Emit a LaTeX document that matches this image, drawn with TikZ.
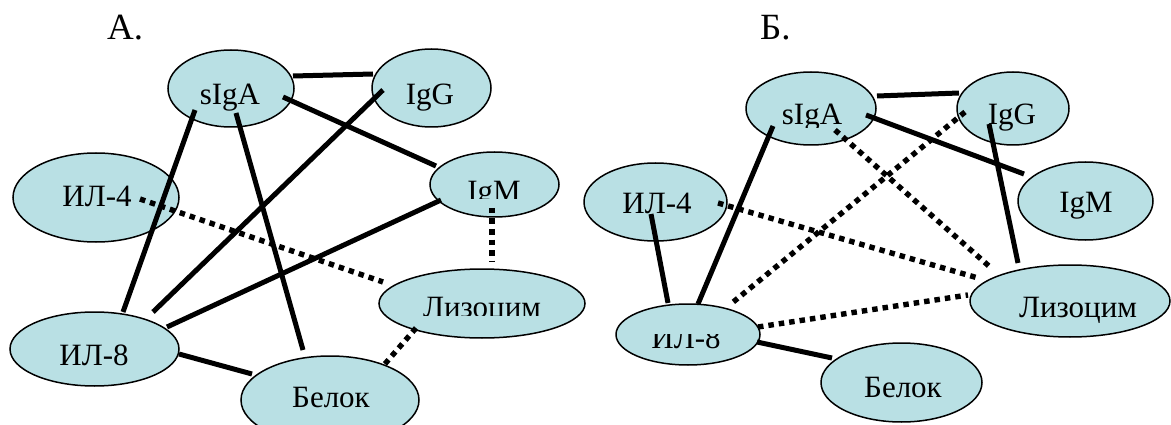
\documentclass[tikz,border=0pt]{standalone}
\usepackage{fontspec}
\setmainfont{Liberation Serif}
\usetikzlibrary{shapes.geometric}
\definecolor{bubble}{RGB}{185,224,228}
\tikzset{
  bub/.style={ellipse, draw=black, line width=1.5pt, fill=bubble, inner sep=0pt},
  txt/.style={anchor=base, inner sep=0pt, font=\fontsize{31}{36}\selectfont},
  head/.style={anchor=base west, inner sep=0pt, font=\fontsize{37}{44}\selectfont},
  link/.style={line width=5pt},
  weak/.style={line width=5.4pt, dash pattern=on 5.5pt off 5pt},
}
\begin{document}
\begin{tikzpicture}[x=1pt,y=-1pt]
\useasboundingbox (0,0) rectangle (1171,425);

% ---------- panel A ----------
\node[head] (hA) at (107,40) {А.};
\node[bub, minimum width=126, minimum height=77] (aS)  at (231,88.5)  {};
\node[bub, minimum width=119, minimum height=78] (aG)  at (431.5,88)  {};
\node[bub, minimum width=166, minimum height=89] (aI4) at (96,197.5)  {};
\node[bub, minimum width=129, minimum height=65] (aM)  at (494.5,184.5) {};
\node[bub, minimum width=206, minimum height=69] (aL)  at (482,303.5)  {};
\node[bub, minimum width=169, minimum height=74] (aI8) at (94.5,349)  {};
\node[bub, minimum width=178, minimum height=88] (aB)  at (330,400)   {};

\node[txt] (aSt)  at (230,105) {sIgA};
\node[txt] (aGt)  at (430,105) {IgG};
\node[txt] (aI4t) at (97,207)  {ИЛ-4};
\node[txt] (aI8t) at (94,365)  {ИЛ-8};
\node[txt] (aBt)  at (331,407) {Белок};
\begin{scope}
  \clip (420,170) rectangle (570,199);
  \node[txt] (aMt) at (494,201) {IgM};
\end{scope}
\begin{scope}
  \clip (400,285) rectangle (570,315.5);
  \node[txt] (aLt) at (482,317) {Лизоцим};
\end{scope}

\draw[link] ([shift={(62,-12.5)}]aS.center) -- ([shift={(-58.5,-14)}]aG.center);
\draw[link] ([shift={(52,8.5)}]aS.center) -- ([shift={(-58.5,-18.5)}]aM.center);
\draw[link] ([shift={(-48.5,2)}]aG.center) -- ([shift={(58.5,-37)}]aI8.center);
\draw[link] ([shift={(-36,21.5)}]aS.center) -- ([shift={(28.5,-37)}]aI8.center);
\draw[link] ([shift={(5,24.5)}]aS.center) -- ([shift={(-27,-50)}]aB.center);
\draw[link] ([shift={(-53.5,15.5)}]aM.center) -- ([shift={(72.5,-22)}]aI8.center);
\draw[link] ([shift={(84.5,5)}]aI8.center) -- ([shift={(-78,-26)}]aB.center);
\draw[weak] ([shift={(44,1.5)}]aI4.center) -- ([shift={(-99,-21.5)}]aL.center);
\draw[weak] ([shift={(-2.5,23.5)}]aM.center) -- ([shift={(10,-41.5)}]aL.center);
\draw[weak] ([shift={(-66,24.5)}]aL.center) -- ([shift={(54,-35)}]aB.center);

% ---------- panel B ----------
\node[head] (hB) at (760,40) {Б.};
\node[bub, minimum width=130, minimum height=73] (bS)  at (811,108.5)  {};
\node[bub, minimum width=112, minimum height=73] (bG)  at (1013,108.5) {};
\node[bub, minimum width=143, minimum height=78] (bI4) at (655.5,202)  {};
\node[bub, minimum width=135, minimum height=78] (bM)  at (1085.5,201) {};
\node[bub, minimum width=200, minimum height=72] (bL)  at (1070,301)   {};
\node[bub, minimum width=144, minimum height=61] (bI8) at (688,334.5)  {};
\node[bub, minimum width=161, minimum height=79] (bB)  at (901.5,382.5) {};

\node[txt] (bGt)  at (1012,125) {IgG};
\node[txt] (bI4t) at (657,214)  {ИЛ-4};
\node[txt] (bMt)  at (1086,213) {IgM};
\node[txt] (bLt)  at (1078,317) {Лизоцим};
\node[txt] (bBt)  at (903,397)  {Белок};
\begin{scope}
  \clip (750,90) rectangle (880,128);
  \node[txt] (bSt) at (812,125) {sIgA};
\end{scope}
\begin{scope}
  \clip (620,334) rectangle (760,360);
  \node[txt] (bI8t) at (686,348) {ИЛ-8};
\end{scope}

\draw[link] ([shift={(66,-12.5)}]bS.center) -- ([shift={(-54,-15.5)}]bG.center);
\draw[link] ([shift={(55,6.5)}]bS.center) -- ([shift={(-61.5,-27)}]bM.center);
\draw[link] ([shift={(-24,15.5)}]bG.center) -- ([shift={(-52,-38)}]bL.center);
\draw[link] ([shift={(-38,17.5)}]bS.center) -- ([shift={(10,-30.5)}]bI8.center);
\draw[link] ([shift={(-4.5,12)}]bI4.center) -- ([shift={(-20,-31.5)}]bI8.center);
\draw[link] ([shift={(69,7.5)}]bI8.center) -- ([shift={(-69.5,-24.5)}]bB.center);
\draw[weak] ([shift={(24,21.5)}]bS.center) -- ([shift={(-80,-34)}]bL.center);
\draw[weak] ([shift={(-48,3.5)}]bG.center) -- ([shift={(44,-31.5)}]bI8.center);
\draw[weak] ([shift={(62.5,1)}]bI4.center) -- ([shift={(-92,-23)}]bL.center);
\draw[weak] ([shift={(70,-7.5)}]bI8.center) -- ([shift={(-102,-6)}]bL.center);
\end{tikzpicture}
\end{document}
